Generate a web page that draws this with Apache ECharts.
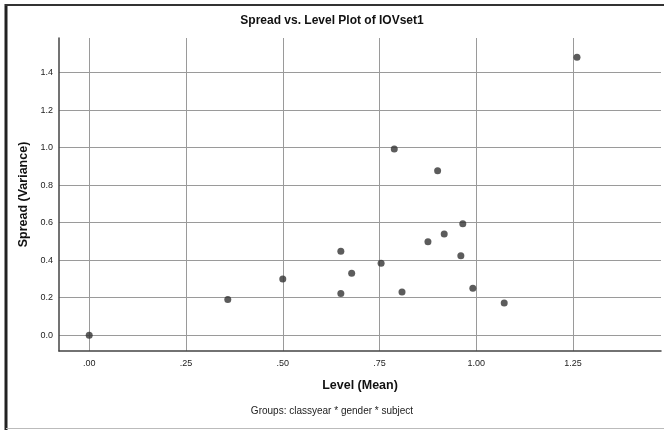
<!DOCTYPE html>
<html>
<head>
<meta charset="utf-8">
<script src="https://cdn.jsdelivr.net/npm/echarts@6/dist/echarts.min.js"></script>
<style>
	html, body { margin: 0; padding: 0; background: #fff; }
	#chart { width: 664px; height: 430px; }
</style>
</head>
<body>
<div id="chart"></div>
<script>
// 数据：水平 (Mean) 与 离散 (Variance)
const levelMean = [0.00, 0.358, 0.50, 0.650, 0.650, 0.678, 0.754, 0.788, 0.808, 0.875, 0.900, 0.917, 0.960, 0.965, 0.991, 1.072, 1.260];
const spreadVar = [0.00, 0.190, 0.30, 0.448, 0.222, 0.331, 0.384, 0.992, 0.231, 0.498, 0.876, 0.540, 0.423, 0.594, 0.251, 0.172, 1.481];
const xTicks = [0, 0.25, 0.5, 0.75, 1.0, 1.25];
const xTickLabels = ['.00', '.25', '.50', '.75', '1.00', '1.25'];
const yTicks = [0, 0.2, 0.4, 0.6, 0.8, 1.0, 1.2, 1.4];

let chart = echarts.init(document.getElementById('chart'));
let points = levelMean.map((x, i) => [x, spreadVar[i]]);
const font = '"Liberation Sans", Arial, sans-serif';

let option = {
	animation: false,
	backgroundColor: '#fff',
	title: {
		text: 'Spread vs. Level Plot of IOVset1',
		left: 'center',
		top: 10,
		textStyle: {
			fontFamily: font,
			fontSize: 12,
			fontWeight: 'bold',
			color: '#111',
		},
	},
	grid: {
		left: 59,
		top: 38,
		right: 3,
		bottom: 79,
	},
	xAxis: {
		type: 'value',
		min: -0.078,
		max: 1.477,
		name: 'Level (Mean)',
		nameLocation: 'middle',
		nameGap: 28,
		nameTextStyle: {
			fontFamily: font,
			fontSize: 12.5,
			fontWeight: 'bold',
			color: '#111',
		},
		axisLine: { show: true, onZero: false, lineStyle: { color: '#444', width: 1.5 } },
		axisTick: { show: false, customValues: xTicks },
		axisLabel: {
			customValues: xTicks,
			formatter: v => xTickLabels[xTicks.indexOf(v)],
			fontFamily: font,
			fontSize: 9,
			color: '#222',
			margin: 8,
		},
		splitLine: { show: true, lineStyle: { color: '#9a9a9a', width: 1 } },
	},
	yAxis: {
		type: 'value',
		min: -0.084,
		max: 1.584,
		name: 'Spread (Variance)',
		nameLocation: 'middle',
		nameGap: 26,
		nameRotate: 90,
		nameTextStyle: {
			fontFamily: font,
			fontSize: 12.5,
			fontWeight: 'bold',
			color: '#111',
		},
		axisLine: { show: true, onZero: false, lineStyle: { color: '#444', width: 1.5 } },
		axisTick: { show: false, customValues: yTicks },
		axisLabel: {
			customValues: yTicks,
			formatter: v => v.toFixed(1),
			fontFamily: font,
			fontSize: 9,
			color: '#222',
			margin: 6,
		},
		splitLine: { show: true, lineStyle: { color: '#9a9a9a', width: 1 } },
	},
	graphic: [
		{
			type: 'text',
			left: 'center',
			top: 406,
			style: {
				text: 'Groups: classyear * gender * subject',
				font: '10px "Liberation Sans", Arial, sans-serif',
				fill: '#222',
			},
		},
		// 外框
		{ type: 'line', shape: { x1: 6, y1: 4, x2: 6, y2: 430 }, style: { stroke: '#222', lineWidth: 3 } },
		{ type: 'line', shape: { x1: 5, y1: 5, x2: 664, y2: 5 }, style: { stroke: '#333', lineWidth: 2 } },
		{ type: 'line', shape: { x1: 6, y1: 428.5, x2: 664, y2: 428.5 }, style: { stroke: '#bbb', lineWidth: 1 } },
	],
	series: [
		{
			type: 'scatter',
			data: points,
			symbol: 'circle',
			symbolSize: 7,
			itemStyle: { color: '#333' },
		},
	],
};
chart.setOption(option);
</script>
</body>
</html>
